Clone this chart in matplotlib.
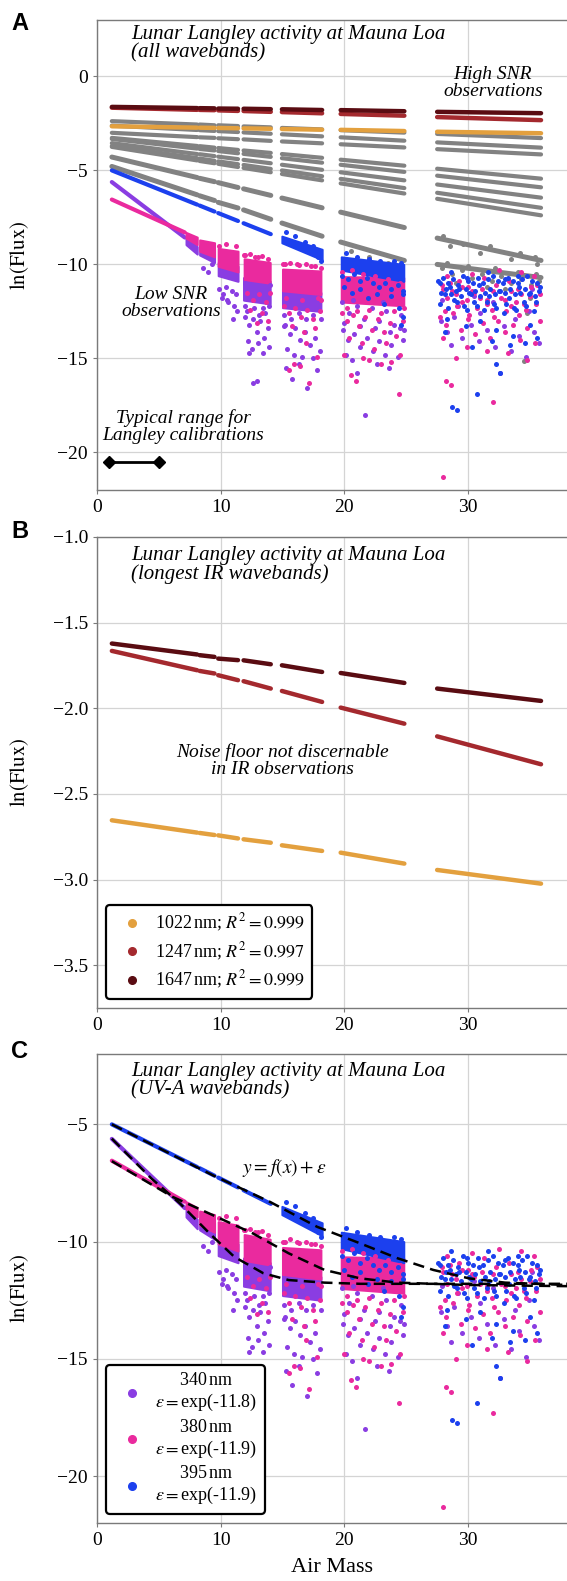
import numpy as np
import matplotlib
matplotlib.use("Agg")
import matplotlib.pyplot as plt
from matplotlib.lines import Line2D

plt.rcParams['font.family'] = 'serif'
plt.rcParams['font.serif'] = ['Liberation Serif', 'DejaVu Serif']
plt.rcParams['mathtext.fontset'] = 'stix'

# colours of the wavebands
c1022 = '#e3a03e'
c1247 = '#a4292e'
c1647 = '#5a0c12'
c340 = '#8a3de2'
c380 = '#ea2a9e'
c395 = '#1c40ee'
cgray = '#828282'

# observing nights (air mass ranges)
seg_start = [1.2, 8.3, 9.8, 11.85, 14.95, 19.7, 27.5]
seg_end = [8.1, 9.5, 11.4, 14.05, 18.2, 24.85, 35.9]

# IR bands, ln(flux) at start / end of each night
ir1022_y0 = [-2.654, -2.728, -2.742, -2.765, -2.800, -2.843, -2.944]
ir1022_y1 = [-2.726, -2.740, -2.760, -2.785, -2.833, -2.907, -3.024]
ir1247_y0 = [-1.665, -1.782, -1.807, -1.842, -1.899, -1.996, -2.164]
ir1247_y1 = [-1.778, -1.797, -1.836, -1.885, -1.963, -2.090, -2.327]
ir1647_y0 = [-1.622, -1.690, -1.710, -1.720, -1.749, -1.794, -1.885]
ir1647_y1 = [-1.686, -1.700, -1.719, -1.743, -1.788, -1.852, -1.957]

# other (gray) wavebands, start / end of each night
gray_y0 = [
    [-2.38, -2.56, -2.60, -2.66, -2.74, -2.86, -3.06],
    [-2.62, -2.86, -2.91, -2.98, -3.08, -3.24, -3.51],
    [-3.00, -3.24, -3.29, -3.35, -3.46, -3.61, -3.87],
    [-3.27, -3.71, -3.81, -3.94, -4.13, -4.43, -4.91],
    [-3.33, -3.86, -3.97, -4.12, -4.35, -4.70, -5.28],
    [-3.55, -4.14, -4.27, -4.44, -4.70, -5.10, -5.75],
    [-3.70, -4.37, -4.52, -4.71, -5.00, -5.45, -6.19],
    [-3.75, -4.50, -4.65, -4.87, -5.19, -5.69, -6.51],
    [-4.29, -5.42, -5.65, -5.98, -6.47, -7.22, -8.60],
    [-4.79, -6.35, -6.70, -7.10, -7.80, -8.81, -10.0],
]
gray_y1 = [
    [-2.56, -2.60, -2.64, -2.71, -2.82, -2.99, -3.28],
    [-2.85, -2.90, -2.96, -3.05, -3.19, -3.42, -3.79],
    [-3.23, -3.27, -3.34, -3.43, -3.56, -3.78, -4.15],
    [-3.70, -3.79, -3.91, -4.07, -4.33, -4.75, -5.44],
    [-3.84, -3.94, -4.09, -4.28, -4.59, -5.08, -5.90],
    [-4.13, -4.24, -4.40, -4.62, -4.97, -5.53, -6.45],
    [-4.35, -4.49, -4.67, -4.92, -5.31, -5.94, -6.99],
    [-4.47, -4.62, -4.82, -5.10, -5.53, -6.23, -7.39],
    [-5.38, -5.60, -5.91, -6.33, -6.99, -8.04, -9.79],
    [-6.30, -6.60, -7.00, -7.60, -8.50, -9.79, -10.7],
]
gray_noise = [(27.9, -10.2), (28.7, -10.5), (29.5, -10.3), (30.3, -10.7), (31.1, -10.5),
              (31.9, -10.9), (32.7, -10.6), (33.5, -11.0), (34.3, -10.8), (35.1, -11.1),
              (35.7, -10.9), (29.0, -11.0), (31.5, -11.2), (33.0, -11.3), (34.8, -12.6),
              (35.0, -11.8), (34.5, -15.15), (28.3, -9.9), (30.0, -10.1), (32.2, -10.2),
              (34.0, -10.4), (35.5, -10.5), (20.5, -9.3), (22.0, -9.6), (23.5, -9.9),
              (24.6, -10.1), (28.5, -9.0), (31.0, -9.4), (33.5, -9.7), (35.6, -10.0),
              (28.0, -8.5), (29.6, -8.9), (31.8, -9.0), (34.2, -9.4), (35.4, -9.6)]

# UV bands: clean parts of the Langley lines
uv340_line = [(1.2, -5.62), (7.1, -8.57)]
uv380_line = [(1.2, -6.55), (7.1, -8.30)]
uv395_x0 = [1.2, 8.3, 9.8, 11.85]
uv395_x1 = [8.1, 9.5, 11.4, 14.05]
uv395_y0 = [-5.00, -6.87, -7.27, -7.81]
uv395_y1 = [-6.82, -7.19, -7.69, -8.39]

# UV dense cores per night: x0, x1, top0, top1, bottom0, bottom1
core340_x0 = [7.2, 8.3, 9.8, 11.85, 15.0]
core340_x1 = [8.1, 9.5, 11.4, 14.0, 18.1]
core340_top0 = [-8.6, -9.0, -9.9, -10.7, -11.3]
core340_top1 = [-9.05, -9.2, -10.1, -10.9, -11.5]
core340_bot0 = [-8.95, -9.5, -10.6, -11.9, -12.3]
core340_bot1 = [-9.45, -9.9, -10.9, -12.1, -12.5]

core380_x0 = [7.2, 8.3, 9.8, 11.9, 15.0, 19.75]
core380_x1 = [8.1, 9.5, 11.4, 14.0, 18.1, 24.8]
core380_top0 = [-8.3, -8.7, -9.15, -9.7, -10.25, -10.65]
core380_top1 = [-8.55, -8.85, -9.3, -9.9, -10.35, -10.7]
core380_bot0 = [-8.6, -9.3, -10.1, -10.8, -11.4, -12.0]
core380_bot1 = [-8.95, -9.6, -10.4, -11.0, -11.6, -12.2]

core395_x0 = [14.95, 19.75]
core395_x1 = [18.2, 24.8]
core395_top0 = [-8.5, -9.6]
core395_top1 = [-9.2, -10.0]
core395_bot0 = [-8.85, -10.3]
core395_bot1 = [-9.75, -10.9]

# scattered (noise-floor) observations
pts340 = [(8.6, -10.2), (9.0, -10.4), (9.3, -10.0),
          (9.9, -11.3), (10.2, -11.6), (10.5, -11.9), (10.9, -11.4), (11.1, -12.2), (11.3, -12.5),
          (10.6, -12.0), (10.1, -11.8), (11.0, -12.9), (11.2, -11.6), (10.4, -11.2),
          (12.0, -12.8), (12.3, -13.2), (12.6, -12.9), (12.9, -13.6), (13.2, -13.0), (13.5, -13.9),
          (13.8, -13.4), (12.2, -14.1), (12.5, -14.5), (13.0, -14.2), (13.4, -14.7), (13.9, -14.4),
          (12.6, -16.3), (12.9, -16.2), (13.6, -12.6), (12.1, -12.5), (13.1, -12.7), (12.3, -14.7),
          (12.0, -12.2), (12.7, -12.3), (13.4, -12.3), (13.9, -12.2), (11.95, -11.0), (14.0, -11.1),
          (15.2, -13.2), (15.6, -13.7), (16.0, -13.4), (16.4, -14.0), (16.8, -13.6), (17.2, -14.3),
          (17.6, -13.9), (18.0, -14.6), (15.4, -14.5), (15.9, -14.8), (16.6, -14.9), (17.5, -15.0),
          (15.3, -15.5), (15.8, -16.1), (17.0, -16.6), (16.3, -15.3), (17.8, -15.6), (15.1, -13.3),
          (15.1, -12.7), (15.7, -12.9), (16.3, -12.6), (16.9, -12.9), (17.5, -12.7), (18.1, -12.9),
          (19.9, -13.5), (20.3, -14.0), (20.8, -13.7), (21.3, -14.4), (21.8, -13.9), (22.3, -14.6),
          (22.8, -14.1), (23.3, -14.8), (23.8, -14.3), (24.3, -14.9), (24.7, -14.0), (20.1, -14.8),
          (20.6, -15.1), (21.7, -18.0), (22.6, -15.3), (23.6, -15.5), (21.0, -15.8), (24.5, -13.4),
          (19.8, -12.0), (20.4, -12.6), (21.0, -12.2), (21.6, -12.9), (22.2, -12.3), (22.8, -13.0),
          (23.4, -12.5), (24.0, -13.2), (24.6, -12.7), (20.0, -13.1), (21.3, -13.3), (22.5, -13.4),
          (23.7, -13.6), (24.8, -13.5), (20.7, -11.9), (23.1, -12.0),
          (27.8, -13.0), (28.3, -13.6), (28.9, -12.8), (29.5, -13.9), (30.2, -13.2), (30.9, -14.1),
          (31.5, -13.5), (32.2, -14.4), (32.9, -13.3), (33.5, -14.6), (34.1, -13.8), (34.7, -14.9),
          (35.3, -13.6), (35.7, -14.2), (28.6, -14.3), (31.0, -12.6), (33.8, -12.9), (32.6, -15.8),
          (29.2, -12.2), (34.9, -12.5), (30.5, -11.7), (35.2, -11.3), (27.9, -11.9), (32.0, -12.0)]

pts380 = [(9.9, -9.0), (10.4, -8.9), (11.2, -9.0),
          (11.9, -9.5), (12.4, -9.45), (12.8, -9.6), (13.3, -9.55), (13.8, -9.7),
          (12.1, -11.5), (12.6, -11.9), (13.1, -11.6), (13.7, -12.0), (12.4, -12.4), (13.3, -12.6),
          (14.0, -11.5), (12.9, -13.1), (13.8, -13.0), (12.0, -9.5), (13.0, -9.6),
          (15.0, -10.0), (15.6, -9.9), (16.3, -10.05), (16.9, -10.0), (17.6, -10.1), (18.1, -10.2),
          (15.1, -12.2), (15.5, -12.6), (16.0, -12.3), (16.5, -12.8), (17.0, -12.4), (17.5, -12.9),
          (18.0, -12.5), (15.8, -13.3), (16.7, -13.6), (17.6, -13.4), (15.5, -15.6), (15.9, -15.3),
          (16.4, -15.4), (17.1, -16.3), (17.8, -14.9), (15.2, -10.0), (16.2, -10.0), (17.3, -10.1),
          (18.1, -11.9), (16.9, -14.2), (15.3, -11.8), (16.6, -11.9), (17.9, -11.8),
          (19.8, -10.4), (20.6, -10.3), (21.5, -10.5), (22.5, -10.6), (23.5, -10.8), (24.5, -11.0),
          (20.2, -12.3), (21.0, -12.5), (22.0, -12.4), (23.0, -12.6), (24.0, -12.5), (24.8, -12.3),
          (19.8, -12.6), (20.2, -13.0), (20.7, -12.7), (21.2, -13.3), (21.7, -12.8), (22.2, -13.5),
          (22.7, -12.9), (23.2, -13.6), (23.7, -13.1), (24.2, -13.8), (24.7, -13.0), (20.4, -13.9),
          (21.4, -14.2), (22.4, -14.5), (23.4, -14.2), (24.5, -14.8), (20.5, -15.9), (20.9, -16.2),
          (24.4, -16.9), (22.0, -15.1), (23.0, -15.3), (20.0, -14.8), (21.5, -15.0), (23.8, -15.2),
          (27.7, -12.8), (28.2, -13.2), (28.8, -12.6), (29.4, -13.5), (30.0, -12.9), (30.6, -13.7),
          (31.2, -13.1), (31.8, -13.9), (32.4, -13.0), (33.0, -13.6), (33.6, -13.2), (34.2, -14.0),
          (34.8, -13.4), (35.4, -14.2), (35.8, -13.0), (28.0, -13.9), (29.0, -15.0), (28.2, -16.2),
          (28.6, -16.4), (28.0, -21.3), (32.0, -17.3), (34.8, -15.1), (33.2, -14.7), (30.3, -10.5),
          (32.5, -10.3), (34.3, -10.4), (28.3, -10.6), (29.9, -14.4), (31.5, -14.6),
          (28.0, -11.3), (29.0, -11.6), (30.0, -11.2), (31.0, -11.8), (32.0, -11.4), (33.0, -11.9),
          (34.0, -11.3), (35.0, -11.7), (35.6, -11.1), (29.5, -12.0), (31.5, -12.1), (33.5, -12.2),
          (30.5, -11.5), (28.5, -11.0), (34.5, -12.1),
          (27.9, -11.1), (28.3, -11.8), (28.7, -11.4), (29.1, -12.2), (29.5, -11.2), (29.9, -11.9),
          (30.3, -11.4), (30.7, -12.3), (31.1, -11.3), (31.5, -11.9), (31.9, -12.4), (32.3, -11.1),
          (32.7, -11.8), (33.1, -12.5), (33.5, -11.4), (33.9, -12.0), (34.3, -11.6), (34.7, -12.4),
          (35.1, -11.2), (35.5, -12.1), (35.8, -11.6), (28.1, -12.5), (30.1, -12.7), (32.1, -12.8),
          (34.1, -12.7), (29.3, -10.9), (31.3, -10.7), (33.3, -10.9), (35.3, -10.6)]

pts395 = [(15.3, -8.3), (16.0, -8.5), (16.8, -8.8), (17.5, -9.0), (18.1, -9.8), (17.9, -9.6),
          (19.8, -10.6), (20.3, -10.8), (20.8, -10.5), (21.3, -10.9), (21.8, -10.7), (22.3, -11.0),
          (22.8, -11.2), (23.3, -11.0), (23.8, -11.3), (24.3, -11.1), (24.7, -11.6), (20.1, -9.4),
          (21.0, -9.6), (22.0, -9.7), (23.0, -9.9), (24.0, -9.8), (24.6, -9.9),
          (20.0, -11.2), (20.6, -11.5), (21.3, -11.3), (21.9, -11.8), (22.6, -11.6), (23.2, -12.1),
          (23.8, -11.7), (24.4, -12.3), (24.7, -11.4), (22.9, -9.8), (23.9, -10.0), (24.5, -10.2),
          (24.7, -12.8), (24.6, -13.2),
          (27.6, -10.9), (28.0, -10.7), (28.4, -11.0), (28.8, -10.8), (29.2, -11.1), (29.6, -10.6),
          (30.0, -10.9), (30.4, -11.0), (30.8, -10.7), (31.2, -11.0), (31.6, -10.8), (32.0, -10.6),
          (32.4, -10.9), (32.8, -11.0), (33.2, -10.7), (33.6, -10.9), (34.0, -11.0), (34.4, -10.8),
          (34.8, -10.6), (35.2, -10.9), (35.6, -11.0),
          (27.8, -11.5), (28.2, -11.3), (28.6, -11.6), (29.0, -11.4), (29.4, -11.7), (29.8, -11.3),
          (30.2, -11.6), (30.6, -11.4), (31.0, -11.7), (31.4, -11.5), (31.8, -11.3), (32.2, -11.6),
          (32.6, -11.4), (33.0, -11.5), (33.4, -11.3), (33.8, -11.6), (34.2, -11.5), (34.6, -11.3),
          (35.0, -11.5), (35.4, -11.7), (35.8, -11.2),
          (27.7, -12.1), (28.4, -12.3), (29.1, -12.0), (29.9, -12.4), (30.7, -12.2), (31.5, -12.0),
          (32.3, -12.3), (33.1, -12.1), (33.9, -12.4), (34.7, -12.2), (35.5, -12.0),
          (27.7, -11.0), (28.1, -11.6), (28.5, -11.2), (28.9, -11.9), (29.3, -11.3), (29.7, -12.2),
          (30.1, -11.5), (30.5, -12.0), (30.9, -11.1), (31.3, -12.4), (31.7, -11.7), (32.1, -12.1),
          (32.5, -11.4), (32.9, -12.6), (33.3, -11.8), (33.7, -12.3), (34.1, -11.2), (34.5, -12.0),
          (34.9, -11.6), (35.3, -12.5), (35.7, -11.4), (28.3, -12.9), (29.8, -13.3), (31.0, -13.0),
          (32.3, -13.5), (33.6, -13.8), (35.0, -13.2), (28.1, -13.6), (30.3, -14.4), (31.9, -14.1),
          (33.4, -14.3), (34.6, -14.2), (35.6, -13.9), (28.7, -17.6), (29.1, -17.75), (30.7, -16.9),
          (32.3, -15.3), (32.6, -15.8), (28.6, -10.4), (31.6, -10.4), (34.0, -10.6), (29.9, -10.7),
          (33.0, -10.8)]

# fitted curves y = f(x) + eps
fit395_x = [1.2, 9.36, 14.0, 17.8, 21.3, 24.3, 27.2, 30.1, 33.0, 38.0]
fit395_y = [-5.0, -7.17, -8.31, -9.37, -10.08, -10.71, -11.21, -11.57, -11.75, -11.85]
fit380_x = [1.2, 6.1, 9.65, 12.6, 15.5, 18.4, 21.3, 24.3, 30.0, 38.0]
fit380_y = [-6.57, -8.09, -8.94, -9.65, -10.5, -11.21, -11.57, -11.75, -11.85, -11.9]
fit340_x = [1.2, 4.4, 6.7, 9.1, 11.1, 13.45, 15.5, 18.4, 21.3, 38.0]
fit340_y = [-5.61, -7.31, -8.37, -9.65, -10.65, -11.35, -11.64, -11.75, -11.8, -11.8]


def draw_nights(ax, y0, y1, color, lw=3.0, z=2):
    for xs, xe, ya, yb in zip(seg_start, seg_end, y0, y1):
        ax.plot([xs, xe], [ya, yb], color=color, lw=lw, solid_capstyle='round', zorder=z)


def draw_cores(ax, x0, x1, t0, t1, b0, b1, color, z):
    for a, b, ta, tb, ba, bb in zip(x0, x1, t0, t1, b0, b1):
        ax.fill_between([a, b], [ba, bb], [ta, tb], color=color, lw=1.5, zorder=z)


def draw_uv(ax):
    p = np.array(uv340_line).T
    ax.plot(p[0], p[1], color=c340, lw=3.0, solid_capstyle='round', zorder=2.1)
    p = np.array(uv380_line).T
    ax.plot(p[0], p[1], color=c380, lw=3.0, solid_capstyle='round', zorder=2.15)
    for a, b, ya, yb in zip(uv395_x0, uv395_x1, uv395_y0, uv395_y1):
        ax.plot([a, b], [ya, yb], color=c395, lw=3.0, solid_capstyle='round', zorder=2.2)
    draw_cores(ax, core340_x0, core340_x1, core340_top0, core340_top1,
               core340_bot0, core340_bot1, c340, 2.2)
    draw_cores(ax, core380_x0, core380_x1, core380_top0, core380_top1,
               core380_bot0, core380_bot1, c380, 2.3)
    draw_cores(ax, core395_x0, core395_x1, core395_top0, core395_top1,
               core395_bot0, core395_bot1, c395, 2.4)
    for pts, c, z in [(pts340, c340, 3), (pts380, c380, 3.1), (pts395, c395, 3.2)]:
        p = np.array(pts).T
        ax.scatter(p[0], p[1], s=13, color=c, linewidths=0, zorder=z)


def style(ax, ylim, yticks):
    ax.set_xlim(0, 38)
    ax.set_ylim(*ylim)
    ax.set_xticks([0, 10, 20, 30])
    ax.set_yticks(yticks)
    ax.grid(True, color='#d4d4d4', lw=0.9)
    ax.set_axisbelow(True)
    for s in ['left', 'bottom', 'top']:
        ax.spines[s].set_color('#7a7a7a')
        ax.spines[s].set_linewidth(1.0)
    ax.spines['right'].set_visible(False)
    ax.tick_params(labelsize=14, length=3, color='#7a7a7a', width=0.8)
    ax.set_ylabel(r'$\ln(\mathrm{Flux})$', fontsize=15)
    ax.yaxis.set_label_coords(-0.14, 0.5)


W, H = 567.0, 1581.0
fig = plt.figure(figsize=(5.67, 15.81), dpi=100)
axA = fig.add_axes([97 / W, 1 - 490 / H, 470 / W, 470 / H])
axB = fig.add_axes([97 / W, 1 - 1008 / H, 470 / W, 471 / H])
axC = fig.add_axes([97 / W, 1 - 1523 / H, 470 / W, 469 / H])

# ---- panel A: all wavebands
style(axA, (-22, 3), [0, -5, -10, -15, -20])
for k, (y0, y1) in enumerate(zip(gray_y0, gray_y1)):
    draw_nights(axA, y0, y1, cgray, lw=3.0 if k < 8 else 3.6, z=1.8)
gn = np.array(gray_noise).T
axA.scatter(gn[0], gn[1], s=13, color=cgray, linewidths=0, zorder=1.9)
draw_uv(axA)
draw_nights(axA, ir1022_y0, ir1022_y1, c1022, lw=3.2, z=4)
draw_nights(axA, ir1247_y0, ir1247_y1, c1247, lw=3.2, z=4.1)
draw_nights(axA, ir1647_y0, ir1647_y1, c1647, lw=3.2, z=4.2)
axA.text(0.072, 0.99, 'Lunar Langley activity at Mauna Loa\n(all wavebands)',
         transform=axA.transAxes, ha='left', va='top', style='italic', fontsize=15,
         linespacing=0.95)
axA.text(32.0, 0.55, 'High SNR\nobservations', ha='center', va='top', style='italic',
         fontsize=14, linespacing=1.0)
axA.text(6.0, -11.17, 'Low SNR\nobservations', ha='center', va='top', style='italic',
         fontsize=14, linespacing=1.0)
axA.text(7.0, -17.7, 'Typical range for\nLangley calibrations', ha='center', va='top',
         style='italic', fontsize=14, linespacing=1.0)
axA.plot([1, 5], [-20.5, -20.5], color='k', lw=2, marker='D', ms=6, zorder=5)

# ---- panel B: IR wavebands
style(axB, (-3.75, -1.0), [-1.0, -1.5, -2.0, -2.5, -3.0, -3.5])
draw_nights(axB, ir1022_y0, ir1022_y1, c1022, lw=3.2)
draw_nights(axB, ir1247_y0, ir1247_y1, c1247, lw=3.2)
draw_nights(axB, ir1647_y0, ir1647_y1, c1647, lw=3.2)
axB.text(0.072, 0.981, 'Lunar Langley activity at Mauna Loa\n(longest IR wavebands)',
         transform=axB.transAxes, ha='left', va='top', style='italic', fontsize=15,
         linespacing=0.95)
axB.text(15.0, -2.203, 'Noise floor not discernable\nin IR observations', ha='center',
         va='top', style='italic', fontsize=14, linespacing=1.0)
hB = [Line2D([], [], ls='', marker='o', ms=5.5, color=c) for c in (c1022, c1247, c1647)]
legB = axB.legend(hB, [r'1022$\,$nm; $R^2=0.999$', r'1247$\,$nm; $R^2=0.997$',
                       r'1647$\,$nm; $R^2=0.999$'],
                  loc='lower left', bbox_to_anchor=(0.02, 0.02), borderaxespad=0,
                  fontsize=13, framealpha=1, handletextpad=0.3, labelspacing=0.35)
legB.get_frame().set_edgecolor('black')
legB.get_frame().set_linewidth(1.6)

# ---- panel C: UV-A wavebands
style(axC, (-22, -2), [-5, -10, -15, -20])
draw_uv(axC)
for fx, fy in [(fit395_x, fit395_y), (fit380_x, fit380_y), (fit340_x, fit340_y)]:
    axC.plot(fx, fy, color='k', lw=1.8, ls=(0, (4.5, 2.5)), zorder=6)
axC.text(0.072, 0.983, 'Lunar Langley activity at Mauna Loa\n(UV-A wavebands)',
         transform=axC.transAxes, ha='left', va='top', style='italic', fontsize=15,
         linespacing=0.95)
axC.text(15.1, -6.85, r'$y=f(x)+\varepsilon$', ha='center', va='center', fontsize=14)
hC = [Line2D([], [], ls='', marker='o', ms=5.5, color=c) for c in (c340, c380, c395)]
legC = axC.legend(hC, ['340$\\,$nm\n$\\varepsilon=$exp(-11.8)',
                       '380$\\,$nm\n$\\varepsilon=$exp(-11.9)',
                       '395$\\,$nm\n$\\varepsilon=$exp(-11.9)'],
                  loc='lower left', bbox_to_anchor=(0.02, 0.02), borderaxespad=0,
                  fontsize=13, framealpha=1, handletextpad=0.3, labelspacing=0.3)
for t in legC.get_texts():
    t.set_multialignment('center')
legC.get_frame().set_edgecolor('black')
legC.get_frame().set_linewidth(1.6)
axC.set_xlabel('Air Mass', fontsize=16)
axC.xaxis.set_label_coords(0.5, -0.075)

for lab, y in [('A', 23), ('B', 532), ('C', 1052)]:
    fig.text(20 / W, 1 - y / H, lab, ha='center', va='center', fontsize=17,
             fontweight='bold', family='Liberation Sans')

fig.savefig('out.png', dpi=100)
